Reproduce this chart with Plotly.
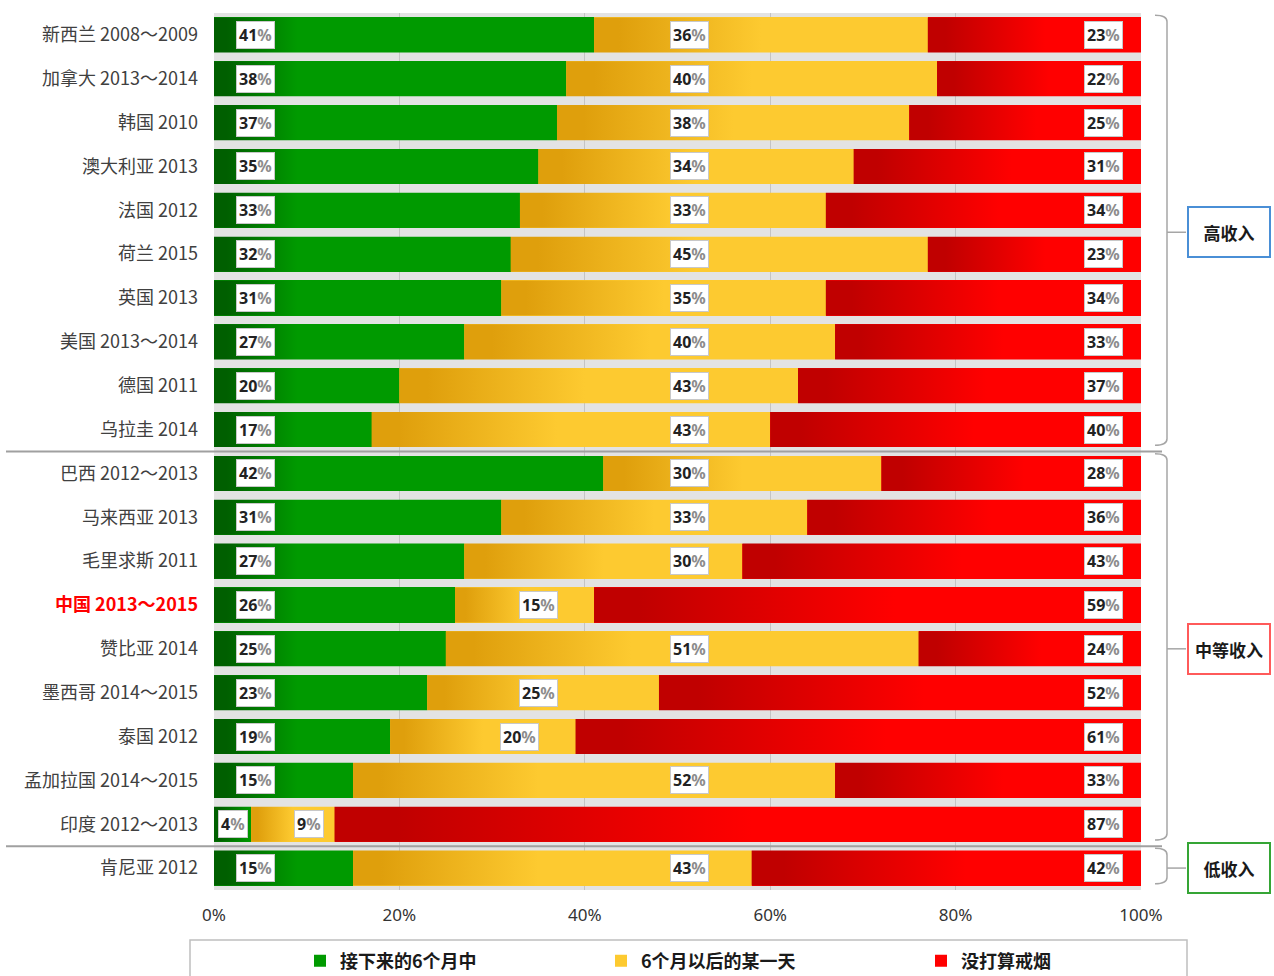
import plotly.graph_objects as go

# Survey rows, top to bottom
countries = [
    "新西兰 2008～2009", "加拿大 2013～2014", "韩国 2010", "澳大利亚 2013",
    "法国 2012", "荷兰 2015", "英国 2013", "美国 2013～2014", "德国 2011",
    "乌拉圭 2014", "巴西 2012～2013", "马来西亚 2013", "毛里求斯 2011",
    "中国 2013～2015", "赞比亚 2014", "墨西哥 2014～2015", "泰国 2012",
    "孟加拉国 2014～2015", "印度 2012～2013", "肯尼亚 2012",
]
income_group = ["高收入"] * 10 + ["中等收入"] * 9 + ["低收入"]
highlight = "中国 2013～2015"

# Share of smokers (%) by quit intention
next_6_months = [41, 38, 37, 35, 33, 32, 31, 27, 20, 17, 42, 31, 27, 26, 25, 23, 19, 15, 4, 15]
later_someday = [36, 40, 38, 34, 33, 45, 35, 40, 43, 43, 30, 33, 30, 15, 51, 25, 20, 52, 9, 43]
no_plan = [23, 22, 25, 31, 34, 23, 34, 33, 37, 40, 28, 36, 43, 59, 24, 52, 61, 33, 87, 42]

series_names = ["接下来的6个月中", "6个月以后的某一天", "没打算戒烟"]
x_ticks = [0, 20, 40, 60, 80, 100]

# ---- styling ----
CJK = "Noto Sans CJK SC"
W, H = 1274, 976
ML, MR, MT, MB = 214, 133, 13, 86
PW, PH = W - ML - MR, H - MT - MB

# (dark start, bright end, gradient length as a share of the segment, cap in axis units)
GRADIENTS = [
    ("#005f00", "#009a00", 1.0, 9.0),
    ("#df9f0c", "#fdca30", 0.5, 20.0),
    ("#c00000", "#ff0000", 0.55, 45.0),
]
GROUP_COLORS = {"高收入": "#4a8fd6", "中等收入": "#ff5a5a", "低收入": "#35a535"}
BRACKET = "#a6a6a6"


def px_x(px):
    """Horizontal pixel -> paper fraction."""
    return (px - ML) / PW


def px_y(py):
    """Vertical pixel -> paper fraction."""
    return (MT + PH - py) / PH


rows = list(range(len(countries)))
series = [next_6_months, later_someday, no_plan]

fig = go.Figure()

# stacked bars
legend_ids = ["legend", "legend2", "legend3"]
for k, (vals, name) in enumerate(zip(series, series_names)):
    fig.add_trace(go.Bar(
        y=rows, x=vals, orientation="h", name=name,
        marker=dict(color=GRADIENTS[k][1], line=dict(width=0)),
        legend=legend_ids[k], hoverinfo="x+name",
    ))

# horizontal gradient fill laid over each stacked segment
starts = [[0] * len(rows), [], []]
starts[1] = [a for a in next_6_months]
starts[2] = [a + b for a, b in zip(next_6_months, later_someday)]
half = 0.4
for k, vals in enumerate(series):
    dark, bright, frac, cap = GRADIENTS[k]
    for i in rows:
        s = starts[k][i]
        e = s + vals[i]
        glen = min(vals[i] * frac, cap)
        fig.add_trace(go.Scatter(
            x=[s, e, e, s, s], y=[i - half, i - half, i + half, i + half, i - half],
            mode="lines", line=dict(width=0), fill="toself",
            fillgradient=dict(type="horizontal",
                              colorscale=[[0, dark], [0.15, dark], [1, bright]],
                              start=s, stop=s + glen),
            showlegend=False, hoverinfo="skip",
        ))

# value labels in white boxes
GREEN_COL, YELLOW_COL, RED_COL = 4.5, 51.3, 96.0
annotations = []


def label(xv, yv, v):
    annotations.append(dict(
        x=xv, y=yv, xref="x", yref="y", showarrow=False,
        text=f"{v}<span style='color:#8c8c8c'>%</span>",
        font=dict(family="Noto Sans", size=16, color="#222222", weight="bold"),
        bgcolor="white", bordercolor="#c8c8c8", borderwidth=1, borderpad=2,
    ))


for i in rows:
    g, y_, r = next_6_months[i], later_someday[i], no_plan[i]
    label(min(GREEN_COL, g / 2), i, g)
    ys, ye = g, g + y_
    if ys + 4 <= YELLOW_COL <= ye - 4:
        yx = YELLOW_COL
    else:
        yx = min(ys + 0.7 * y_, 35.0)
    label(yx, i, y_)
    label(max(RED_COL, ye + r / 2), i, r)

# income-group brackets, separators and boxes
shapes = []
groups = []
for i, gname in enumerate(income_group):
    if not groups or groups[-1][0] != gname:
        groups.append([gname, i, i])
    else:
        groups[-1][2] = i

xv, xh, xt = px_x(1167), px_x(1155), px_x(1186)
for n, (gname, first, last) in enumerate(groups):
    top, bot = first - 0.45, last + 0.36
    mid = (first + last) / 2
    shapes.append(dict(
        type="path", xref="paper", yref="y",
        path=(f"M {xh},{top} Q {xv},{top} {xv},{top + 0.15} L {xv},{bot - 0.15} "
              f"Q {xv},{bot} {xh},{bot}"),
        line=dict(color=BRACKET, width=1.5),
    ))
    shapes.append(dict(type="line", xref="paper", yref="y", x0=xv, x1=xt, y0=mid, y1=mid,
                       line=dict(color=BRACKET, width=1.5)))
    annotations.append(dict(
        x=px_x(1187), y=mid, xref="paper", yref="y", xanchor="left", showarrow=False,
        text=gname, width=80, height=48, align="center", valign="middle",
        font=dict(family=CJK, size=17, color="#1a1a1a", weight="bold"),
        bgcolor="white", bordercolor=GROUP_COLORS[gname], borderwidth=2, borderpad=0,
    ))
    if n < len(groups) - 1:
        shapes.append(dict(type="line", xref="paper", yref="y",
                           x0=px_x(6), x1=px_x(1162), y0=last + 0.5, y1=last + 0.5,
                           line=dict(color="#a0a0a0", width=2)))

# legend frame
shapes.append(dict(type="rect", xref="paper", yref="paper",
                   x0=px_x(190), x1=px_x(1187), y0=px_y(1000), y1=px_y(940),
                   line=dict(color="#bfbfbf", width=1.5), fillcolor="rgba(0,0,0,0)"))

ticktext = [
    f"<span style='color:#ff0000'><b>{c}</b></span>" if c == highlight else c
    for c in countries
]

legend_style = dict(
    orientation="h", xanchor="left", yanchor="middle", y=px_y(961),
    bgcolor="rgba(0,0,0,0)", borderwidth=0, itemwidth=30,
    font=dict(family=CJK, size=18, color="#1a1a1a", weight="bold"),
)

fig.update_layout(
    width=W, height=H,
    margin=dict(l=ML, r=MR, t=MT, b=MB, autoexpand=False),
    paper_bgcolor="white", plot_bgcolor="#e3e3e3",
    barmode="stack", bargap=0.2,
    font=dict(family=CJK),
    xaxis=dict(range=[0, 100], tickvals=x_ticks, ticktext=[f"{v}%" for v in x_ticks],
               showgrid=True, gridcolor="#c4c4c4", gridwidth=1, zeroline=False,
               showline=False, ticks="", ticklabelstandoff=13,
               tickfont=dict(family="Noto Sans", size=17, color="#333333")),
    yaxis=dict(range=[len(rows) - 0.5, -0.5], tickvals=rows, ticktext=ticktext,
               showgrid=False, zeroline=False, ticks="", ticklabelstandoff=15,
               tickfont=dict(family=CJK, size=18, color="#404040")),
    legend=dict(legend_style, x=px_x(300)),
    legend2=dict(legend_style, x=px_x(601)),
    legend3=dict(legend_style, x=px_x(921)),
    shapes=shapes,
    annotations=annotations,
)

fig.write_html("out.html")
